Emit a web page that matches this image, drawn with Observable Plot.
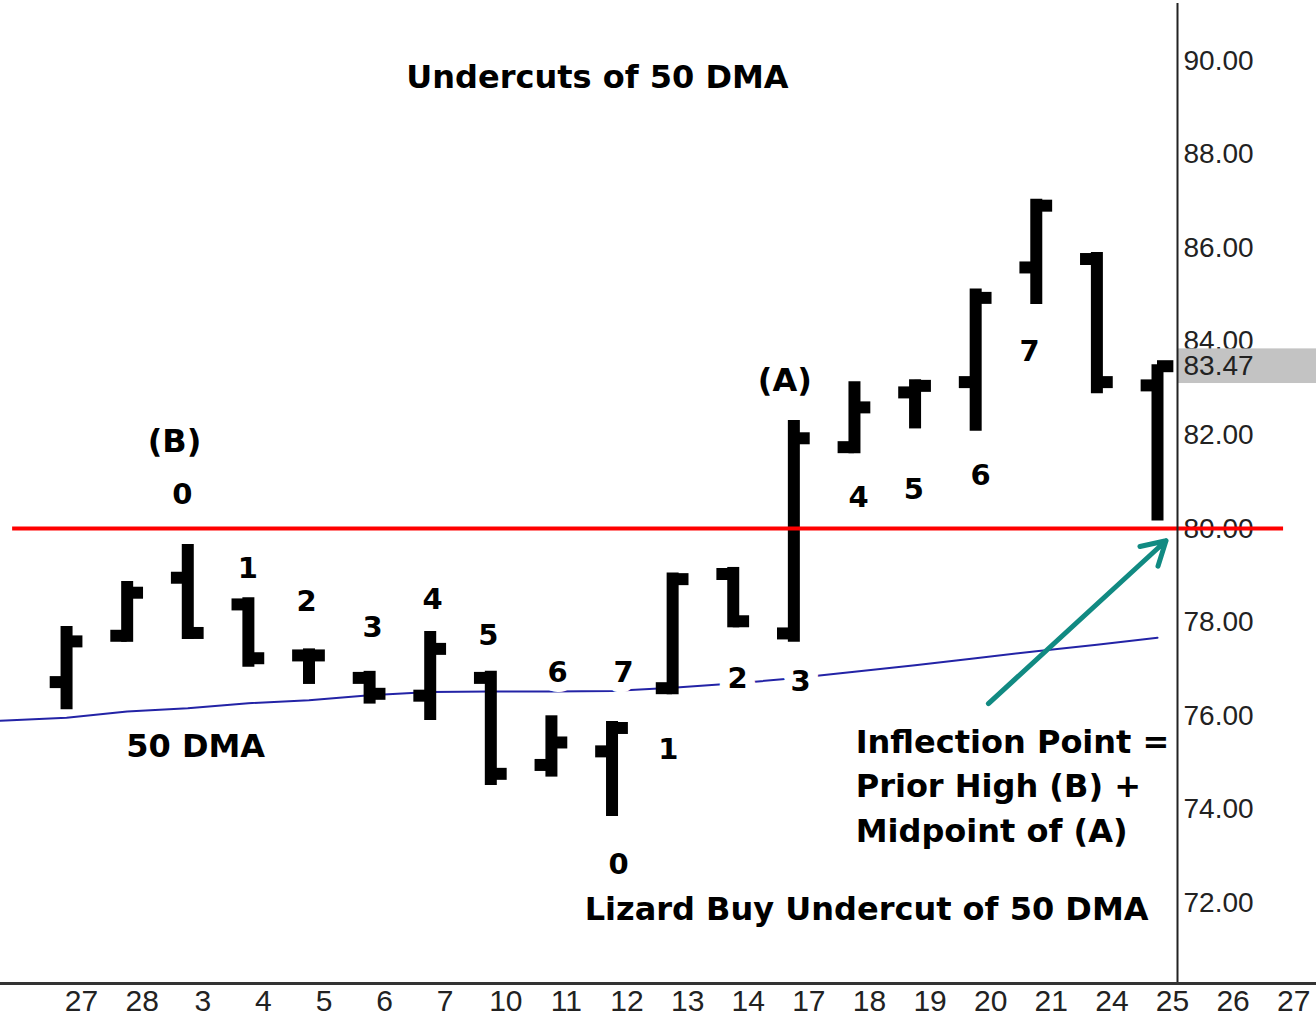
<!DOCTYPE html>
<html>
<head>
<meta charset="utf-8">
<script src="https://cdn.jsdelivr.net/npm/d3@7"></script>
<script src="https://cdn.jsdelivr.net/npm/@observablehq/plot@0.6"></script>
<style>
  html, body { margin: 0; padding: 0; background: #fff; }
  #chart { width: 1316px; height: 1020px; overflow: hidden; }
</style>
</head>
<body>
<div id="chart"></div>
<script>
// ---- data ----
const days   = [27, 28, 3, 4, 5, 6, 7, 10, 11, 12, 13, 14, 17, 18, 19, 20, 21, 24, 25, 26, 27];
const opens  = [76.72, 77.71, 78.95, 78.38, 77.29, 76.81, 76.43, 76.81, 74.95, 75.24, 76.59, 79.03, 77.76, 81.74, 82.91, 83.13, 85.58, 85.76, 83.06];
const highs  = [77.91, 78.87, 79.66, 78.52, 77.43, 76.95, 77.80, 76.95, 76.00, 75.88, 79.05, 79.17, 82.31, 83.14, 83.18, 85.12, 87.04, 85.90, 83.50];
const lows   = [76.13, 77.57, 77.63, 77.04, 76.67, 76.25, 75.90, 74.51, 74.69, 73.85, 76.45, 77.88, 77.57, 81.60, 82.13, 82.08, 84.79, 82.88, 80.16];
const closes = [77.59, 78.63, 77.77, 77.23, 77.29, 76.47, 77.43, 74.76, 75.43, 75.74, 78.92, 78.02, 81.93, 82.59, 83.05, 84.93, 86.90, 83.13, 83.47];
const dmaIndex = [-2, -1, 0, 1, 2, 3, 4, 5, 6, 7, 8, 9, 10, 11, 12, 13, 14, 15, 16, 17, 18];
const dmaValues = [75.85, 75.90, 75.96, 76.09, 76.16, 76.27, 76.33, 76.44, 76.51, 76.52, 76.52, 76.53, 76.60, 76.69, 76.80, 76.94, 77.08, 77.23, 77.38, 77.52, 77.67];
const inflection = 80;
const priceTicks = [72, 74, 76, 78, 80, 82, 84, 86, 88, 90];

// count labels: [text, x (bar index units), y (price)]
const countLabels = [
  ["0", 1.91, 80.73], ["1", 2.99, 79.15], ["2", 3.96, 78.44], ["3", 5.05, 77.88],
  ["4", 6.04, 78.48], ["5", 6.96, 77.71], ["6", 8.10, 76.92], ["7", 9.19, 76.92],
  ["0", 9.11, 72.82], ["1", 9.93, 75.28], ["2", 11.07, 76.79], ["3", 12.11, 76.73],
  ["4", 13.07, 80.66], ["5", 13.98, 80.83], ["6", 15.08, 81.13], ["7", 15.89, 83.78]
];
const centerNotes = [
  ["Undercuts of 50 DMA", 8.76, 89.64], ["(B)", 1.78, 81.86], ["(A)", 11.85, 83.16],
  ["50 DMA", 2.13, 75.34], ["Lizard Buy Undercut of 50 DMA", 13.20, 71.86]
];
const leftNotes = [
  ["Inflection Point =", 13.02, 75.43], ["Prior High (B) +", 13.02, 74.49], ["Midpoint of (A)", 13.02, 73.53]
];
const arrowFrom = [15.21, 76.26];
const arrowTo = [18.14, 79.74];

// ---- build ----
const bars = days.slice(0, opens.length).map((d, i) => ({i, day: d, open: opens[i], high: highs[i], low: lows[i], close: closes[i]}));
const dma = dmaIndex.map((i, k) => ({i, v: dmaValues[k]}));
const toObj = ([t, x, y]) => ({t, x, y});
const xDomain = [-1.09, 18.33];
const xFar = 20.63;
const yDomain = [70.28, 91.22];
const last = bars[bars.length - 1];

const boldFont = "DejaVu Sans, Liberation Sans, sans-serif";

const chart = Plot.plot({
  width: 1316,
  height: 1020,
  marginLeft: 0,
  marginRight: 139,
  marginTop: 3,
  marginBottom: 37,
  style: {background: "white", color: "black"},
  x: {domain: xDomain},
  y: {domain: yDomain},
  marks: [
    Plot.axisY(priceTicks, {anchor: "right", tickSize: 0, tickPadding: 6, tickFormat: d => d.toFixed(2),
      fontSize: 28, fontFamily: "Liberation Sans, Arial, sans-serif", fill: "#222", label: null}),
    Plot.rect([last], {x1: () => xDomain[1], x2: () => xFar, y1: d => d.close - 0.37, y2: d => d.close + 0.37, fill: "#c3c3c3", clip: false}),
    Plot.text([last], {x: () => xDomain[1], y: "close", text: d => d.close.toFixed(2), dx: 6, textAnchor: "start",
      fontSize: 28, fontFamily: "Liberation Sans, Arial, sans-serif", fill: "#222"}),
    Plot.axisX(d3.range(days.length), {tickSize: 0, tickPadding: 6, dx: 15, tickFormat: i => String(days[i]),
      fontSize: 30, fontFamily: "Liberation Sans Narrow, Liberation Sans, sans-serif", fill: "#222", label: null}),
    Plot.line(dma, {x: "i", y: "v", stroke: "#2323a6", strokeWidth: 2, clip: true}),
    Plot.text(countLabels.map(toObj), {x: "x", y: "y", text: "t", fontSize: 29, fontWeight: "bold", fontFamily: boldFont,
      fill: "black", stroke: "white", strokeWidth: 20, paintOrder: "stroke"}),
    Plot.text(centerNotes.map(toObj), {x: "x", y: "y", text: "t", fontSize: 32, fontWeight: "bold", fontFamily: boldFont,
      fill: "black", stroke: "white", strokeWidth: 6, paintOrder: "stroke"}),
    Plot.text(leftNotes.map(toObj), {x: "x", y: "y", text: "t", textAnchor: "start", fontSize: 32, fontWeight: "bold", fontFamily: boldFont,
      fill: "black", stroke: "white", strokeWidth: 6, paintOrder: "stroke"}),
    Plot.ruleX(bars, {x: "i", y1: "low", y2: "high", stroke: "black", strokeWidth: 12}),
    Plot.ruleY(bars, {y: "open", x1: d => d.i - 0.27, x2: "i", stroke: "black", strokeWidth: 12}),
    Plot.ruleY(bars, {y: "close", x1: "i", x2: d => d.i + 0.27, stroke: "black", strokeWidth: 12, clip: false}),
    Plot.ruleY([inflection], {x1: () => -0.89, x2: () => 20.08, stroke: "#ff0000", strokeWidth: 4, clip: false}),
    Plot.arrow([{x1: arrowFrom[0], y1: arrowFrom[1], x2: arrowTo[0], y2: arrowTo[1]}],
      {x1: "x1", y1: "y1", x2: "x2", y2: "y2", stroke: "#118a82", strokeWidth: 5}),
    Plot.ruleX([xDomain[1]], {stroke: "#222", strokeWidth: 2}),
    Plot.ruleY([yDomain[0]], {x1: () => xDomain[0], x2: () => xFar, stroke: "#333", strokeWidth: 3, clip: false})
  ]
});
document.getElementById("chart").appendChild(chart);
</script>
</body>
</html>
